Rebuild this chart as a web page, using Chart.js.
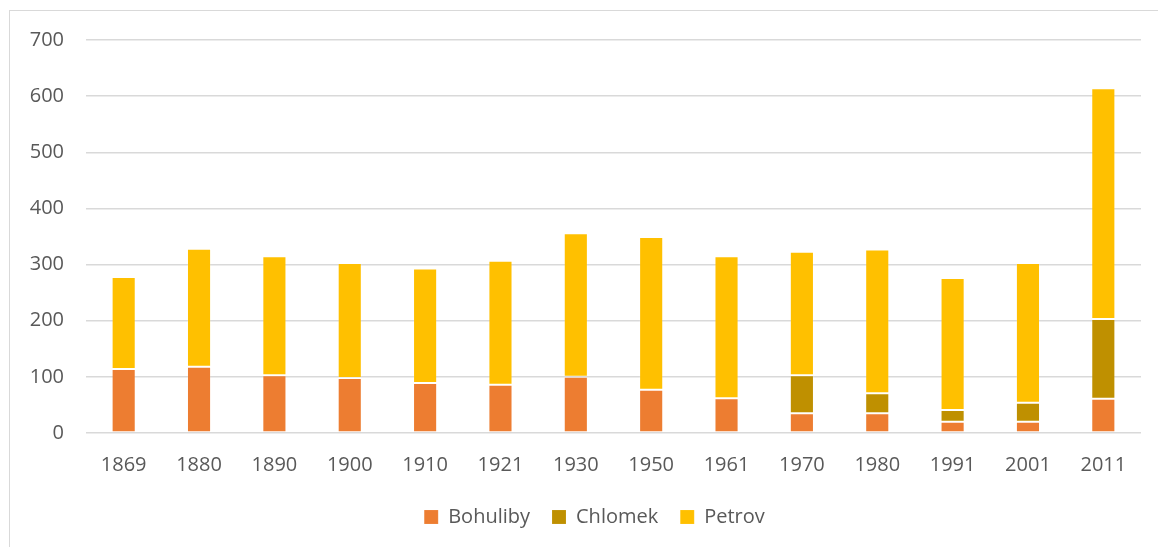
<!DOCTYPE html>
<html>
<head>
<meta charset="utf-8">
<script src="https://cdn.jsdelivr.net/npm/chart.js@4"></script>
<style>
    html, body { margin: 0; padding: 0; background: #fff; }
    #wrap { width: 1158px; height: 547px; position: relative; }
</style>
</head>
<body>
<div id="wrap"><canvas id="chart" width="1158" height="547"></canvas></div>
<script>
// sčítání lidu - počty obyvatel po částech obce
const years = ["1869", "1880", "1890", "1900", "1910", "1921", "1930", "1950", "1961", "1970", "1980", "1991", "2001", "2011"];
const bohuliby = [114, 118, 103, 98, 89, 86, 100, 77, 62, 35, 35, 20, 20, 61];
const chlomek = [0, 0, 0, 0, 0, 0, 0, 0, 0, 68, 36, 21, 34, 142];
const petrov = [164, 210, 212, 205, 204, 221, 256, 272, 253, 220, 256, 235, 249, 411];

const FONT = "'Open Sans', sans-serif";
const TEXT = "#595959";

// rámeček kolem grafu jako v Excelu
const frame = {
    id: "frame",
    beforeDraw(chart) {
        const ctx = chart.ctx;
        ctx.save();
        ctx.strokeStyle = "#d9d9d9";
        ctx.lineWidth = 1;
        ctx.strokeRect(9.5, 10.5, 2000, 2000);
        ctx.restore();
    }
};

// legenda je v originálu trochu posunutá doprava
const legendShift = {
    id: "legendShift",
    afterLayout(chart) {
        chart.legend.left += 19;
        chart.legend.right += 19;
    }
};

function dataset(label, data, color) {
    return {
        label,
        data,
        backgroundColor: color,
        borderColor: "rgba(255,255,255,0.12)",
        borderWidth: 1,
        borderSkipped: false
    };
}

new Chart(document.getElementById("chart"), {
    type: "bar",
    data: {
        labels: years,
        datasets: [
            dataset("Bohuliby", bohuliby, "#ED7D31"),
            dataset("Chlomek", chlomek, "#BF9000"),
            dataset("Petrov", petrov, "#FFC000")
        ]
    },
    plugins: [frame, legendShift],
    options: {
        responsive: false,
        animation: false,
        layout: { padding: { left: 10, right: 17, top: 40, bottom: 10 } },
        datasets: { bar: { categoryPercentage: 1, barPercentage: 0.32 } },
        plugins: {
            tooltip: { enabled: false },
            legend: {
                position: "bottom",
                labels: {
                    boxWidth: 14,
                    boxHeight: 14,
                    padding: 22,
                    color: TEXT,
                    font: { family: FONT, size: 20 }
                }
            }
        },
        scales: {
            x: {
                stacked: true,
                afterFit(scale) { scale.height -= 12; },
                grid: { display: false, drawTicks: false },
                border: { display: false },
                ticks: { color: TEXT, padding: 20, font: { family: FONT, size: 20 } }
            },
            y: {
                stacked: true,
                min: 0,
                max: 700,
                afterFit(scale) { scale.width = 76; },
                grid: { color: "#d9d9d9", lineWidth: 1.5, drawTicks: false },
                border: { display: false },
                ticks: { stepSize: 100, color: TEXT, padding: 22, font: { family: FONT, size: 20 } }
            }
        }
    }
});
</script>
</body>
</html>
